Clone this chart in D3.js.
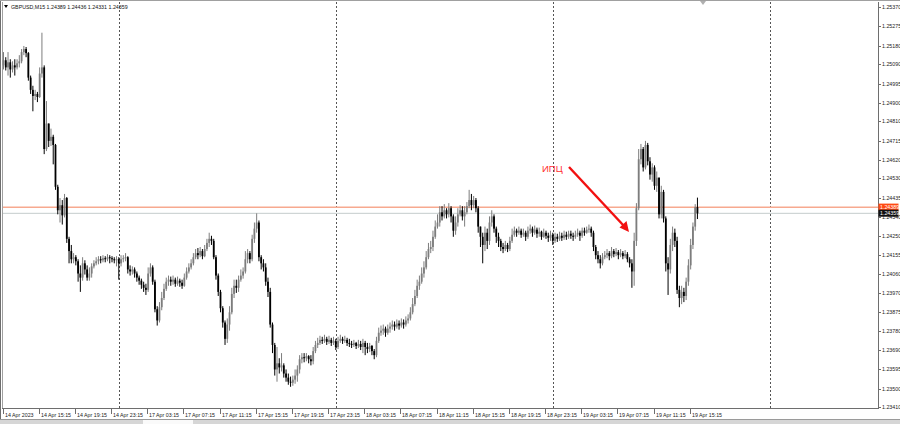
<!DOCTYPE html>
<html>
<head>
<meta charset="utf-8">
<script src="https://cdn.jsdelivr.net/npm/d3@7.9.0/dist/d3.min.js"></script>
<style>
  body { margin: 0; background: #fff; }
  svg { display: block; }
  text { font-family: "Liberation Sans", Arial, sans-serif; }
</style>
</head>
<body>
<svg id="chart" width="900" height="424"></svg>
<script>
// GBPUSD M15, 14 Apr 2023 11:15 .. 19 Apr 2023 16:00
const symbol = 'GBPUSD,M15';
const firstOpen = 1.25084;

const closes = [
  1.25109,1.25074,1.25099,1.25064,1.25084,1.25074,1.25094,1.25104,1.25149,1.25164,
  1.25144,1.25024,1.24964,1.24934,1.24944,1.24929,1.25044,1.25074,1.24674,1.24799,
  1.24714,1.24734,1.24694,1.24489,1.24374,1.24399,1.24349,1.24434,1.24234,1.24174,
  1.24134,1.24144,1.24124,1.24064,1.24044,1.24114,1.24084,1.24044,1.24064,1.24099,
  1.24114,1.24124,1.24134,1.24129,1.24139,1.24134,1.24144,1.24139,1.24134,1.24129,
  1.24134,
  // 17 Apr
  1.24114,1.24134,1.24139,1.24144,1.24084,1.24074,1.24084,1.24064,1.24044,1.24029,
  1.24009,1.23994,1.23984,1.24064,1.24094,1.24024,1.23889,1.23834,1.23899,1.23944,
  1.23989,1.24024,1.24034,1.24024,1.24034,1.24014,1.24029,1.24019,1.24004,1.24044,
  1.24074,1.24094,1.24114,1.24144,1.24164,1.24154,1.24174,1.24149,1.24184,1.24214,
  1.24234,1.24224,1.24144,1.24054,1.23974,1.23894,1.23824,1.23744,1.23814,1.23874,
  1.23964,1.24004,1.23994,1.24034,1.24054,1.24074,1.24134,1.24164,1.24134,1.24234,
  1.24284,1.24314,1.24144,1.24114,1.24094,1.24024,1.23974,1.23814,1.23714,1.23594,
  1.23624,1.23604,1.23614,1.23574,1.23554,1.23534,1.23529,1.23544,1.23564,1.23594,
  1.23644,1.23654,1.23649,1.23659,1.23644,1.23634,1.23684,1.23714,1.23724,1.23739,
  1.23734,1.23744,1.23729,1.23739,1.23724,1.23734,
  // 18 Apr
  1.23704,1.23734,1.23744,1.23734,1.23739,1.23724,1.23719,1.23714,1.23724,1.23709,
  1.23719,1.23704,1.23724,1.23704,1.23694,1.23709,1.23684,1.23664,1.23734,1.23774,
  1.23784,1.23794,1.23774,1.23794,1.23804,1.23814,1.23804,1.23819,1.23809,1.23824,
  1.23814,1.23834,1.23844,1.23874,1.23914,1.23954,1.24004,1.24024,1.24064,1.24094,
  1.24144,1.24184,1.24194,1.24244,1.24294,1.24314,1.24364,1.24344,1.24374,1.24354,
  1.24384,1.24344,1.24274,1.24314,1.24354,1.24374,1.24344,1.24364,1.24394,1.24424,
  1.24399,1.24424,1.24384,1.24294,1.24244,1.24204,1.24264,1.24224,1.24314,1.24344,
  1.24284,1.24244,1.24224,1.24194,1.24184,1.24204,1.24184,1.24224,1.24254,1.24274,
  1.24264,1.24274,1.24254,1.24264,1.24244,1.24274,1.24284,1.24264,1.24279,1.24259,
  1.24269,1.24244,1.24264,1.24249,1.24239,1.24254,
  // 19 Apr
  1.24224,1.24244,1.24234,1.24249,1.24239,1.24254,1.24244,1.24259,1.24249,1.24244,
  1.24254,1.24264,1.24249,1.24274,1.24264,1.24279,1.24284,1.24264,1.24194,1.24154,
  1.24134,1.24114,1.24144,1.24154,1.24164,1.24149,1.24174,1.24159,1.24169,1.24154,
  1.24164,1.24149,1.24159,1.24134,1.24114,1.24074,1.24224,1.24384,1.24624,1.24674,
  1.24584,1.24694,1.24614,1.24549,1.24584,1.24494,1.24534,1.24354,1.24464,1.24334,
  1.24114,1.24084,1.24204,1.24264,1.24224,1.23984,1.23944,1.23974,1.23954,1.24024,
  1.24104,1.24204,1.24294,1.24389,1.24359
];

const highs = [
  1.25149,1.25124,1.25149,1.25114,1.25104,1.25114,1.25114,1.25134,1.25164,1.25179,
  1.25174,1.25149,1.25034,1.24984,1.24964,1.24954,1.25074,1.25244,1.25084,1.24909,
  1.24774,1.24774,1.24744,1.24699,1.24499,1.24434,1.24424,1.24454,1.24439,1.24244,
  1.24204,1.24164,1.24154,1.24134,1.24104,1.24144,1.24129,1.24104,1.24094,1.24114,
  1.24129,1.24144,1.24149,1.24149,1.24154,1.24149,1.24159,1.24154,1.24149,1.24144,
  1.24149,
  1.24144,1.24154,1.24154,1.24164,1.24149,1.24104,1.24099,1.24094,1.24074,1.24054,
  1.24039,1.24024,1.24014,1.24094,1.24114,1.24104,1.24034,1.23904,1.23924,1.23974,
  1.24014,1.24044,1.24054,1.24049,1.24054,1.24044,1.24049,1.24039,1.24034,1.24064,
  1.24094,1.24114,1.24134,1.24164,1.24184,1.24189,1.24194,1.24184,1.24204,1.24234,
  1.24264,1.24249,1.24234,1.24154,1.24064,1.23984,1.23904,1.23834,1.23844,1.23904,
  1.23994,1.24034,1.24034,1.24054,1.24084,1.24094,1.24174,1.24184,1.24174,1.24254,
  1.24314,1.24359,1.24324,1.24154,1.24134,1.24114,1.24044,1.23994,1.23824,1.23724,
  1.23704,1.23649,1.23674,1.23624,1.23594,1.23574,1.23559,1.23564,1.23594,1.23614,
  1.23664,1.23674,1.23674,1.23674,1.23664,1.23664,1.23704,1.23734,1.23749,1.23759,
  1.23754,1.23764,1.23754,1.23759,1.23749,1.23754,
  1.23744,1.23754,1.23764,1.23754,1.23759,1.23749,1.23744,1.23734,1.23739,1.23729,
  1.23739,1.23734,1.23744,1.23734,1.23724,1.23724,1.23714,1.23694,1.23754,1.23799,
  1.23809,1.23814,1.23804,1.23814,1.23824,1.23834,1.23829,1.23839,1.23834,1.23844,
  1.23839,1.23854,1.23864,1.23899,1.23944,1.23984,1.24034,1.24054,1.24094,1.24124,
  1.24174,1.24214,1.24224,1.24274,1.24324,1.24354,1.24394,1.24394,1.24404,1.24384,
  1.24409,1.24394,1.24354,1.24344,1.24384,1.24399,1.24394,1.24394,1.24414,1.24474,
  1.24454,1.24444,1.24434,1.24394,1.24294,1.24264,1.24294,1.24284,1.24344,1.24374,
  1.24354,1.24294,1.24264,1.24234,1.24214,1.24224,1.24214,1.24244,1.24284,1.24294,
  1.24284,1.24294,1.24284,1.24284,1.24274,1.24294,1.24304,1.24294,1.24299,1.24289,
  1.24289,1.24274,1.24284,1.24274,1.24264,1.24274,
  1.24264,1.24264,1.24259,1.24269,1.24264,1.24274,1.24269,1.24274,1.24274,1.24264,
  1.24274,1.24284,1.24274,1.24289,1.24289,1.24294,1.24304,1.24294,1.24274,1.24204,
  1.24174,1.24154,1.24164,1.24174,1.24184,1.24174,1.24194,1.24184,1.24189,1.24179,
  1.24184,1.24174,1.24179,1.24169,1.24144,1.24134,1.24264,1.24409,1.24674,1.24699,
  1.24684,1.24714,1.24704,1.24634,1.24604,1.24594,1.24564,1.24534,1.24494,1.24474,
  1.24344,1.24144,1.24234,1.24294,1.24284,1.24244,1.24004,1.24004,1.23994,1.24044,
  1.24134,1.24234,1.24314,1.24404,1.24436
];

const lows = [
  1.25064,1.25059,1.25034,1.25024,1.25049,1.25034,1.25064,1.25074,1.25094,1.25134,
  1.25124,1.25009,1.24944,1.24859,1.24914,1.24904,1.24924,1.25024,1.24649,1.24664,
  1.24684,1.24689,1.24599,1.24474,1.24354,1.24314,1.24304,1.24339,1.24214,1.24114,
  1.24114,1.24114,1.24104,1.24024,1.23974,1.24029,1.24059,1.24029,1.24029,1.24044,
  1.24089,1.24104,1.24109,1.24114,1.24119,1.24119,1.24124,1.24114,1.24119,1.24114,
  1.24099,
  1.24034,1.24099,1.24119,1.24124,1.24064,1.24054,1.24059,1.24044,1.24024,1.24009,
  1.23989,1.23974,1.23959,1.23974,1.24049,1.24009,1.23874,1.23809,1.23824,1.23884,
  1.23934,1.23979,1.24004,1.24004,1.24009,1.23999,1.24004,1.23999,1.23989,1.23999,
  1.24034,1.24064,1.24084,1.24104,1.24134,1.24134,1.24144,1.24134,1.24144,1.24174,
  1.24194,1.24204,1.24134,1.24034,1.23954,1.23874,1.23799,1.23714,1.23724,1.23784,
  1.23864,1.23944,1.23969,1.23974,1.24024,1.24039,1.24064,1.24114,1.24114,1.24124,
  1.24214,1.24264,1.24124,1.24084,1.24074,1.24004,1.23949,1.23799,1.23674,1.23564,
  1.23534,1.23574,1.23584,1.23554,1.23534,1.23519,1.23509,1.23514,1.23524,1.23534,
  1.23574,1.23624,1.23629,1.23634,1.23624,1.23614,1.23619,1.23674,1.23699,1.23714,
  1.23719,1.23724,1.23714,1.23719,1.23709,1.23714,
  1.23689,1.23694,1.23724,1.23719,1.23724,1.23709,1.23704,1.23699,1.23704,1.23694,
  1.23699,1.23689,1.23674,1.23664,1.23674,1.23679,1.23664,1.23644,1.23654,1.23724,
  1.23759,1.23764,1.23754,1.23764,1.23774,1.23789,1.23784,1.23794,1.23789,1.23799,
  1.23794,1.23804,1.23819,1.23834,1.23864,1.23904,1.23944,1.23984,1.24014,1.24044,
  1.24084,1.24134,1.24164,1.24174,1.24234,1.24284,1.24294,1.24324,1.24334,1.24334,
  1.24339,1.24314,1.24244,1.24254,1.24294,1.24344,1.24324,1.24294,1.24354,1.24384,
  1.24374,1.24384,1.24364,1.24264,1.24194,1.24114,1.24174,1.24184,1.24204,1.24294,
  1.24264,1.24214,1.24194,1.24174,1.24164,1.24174,1.24169,1.24174,1.24214,1.24244,
  1.24244,1.24254,1.24239,1.24244,1.24224,1.24234,1.24259,1.24244,1.24254,1.24239,
  1.24244,1.24229,1.24239,1.24234,1.24219,1.24224,
  1.24204,1.24214,1.24219,1.24224,1.24224,1.24229,1.24229,1.24234,1.24234,1.24224,
  1.24234,1.24244,1.24224,1.24239,1.24249,1.24259,1.24264,1.24244,1.24174,1.24134,
  1.24114,1.24089,1.24104,1.24134,1.24139,1.24129,1.24139,1.24144,1.24149,1.24134,
  1.24144,1.24134,1.24139,1.24119,1.24094,1.23994,1.24004,1.24199,1.24374,1.24599,
  1.24564,1.24574,1.24594,1.24524,1.24514,1.24474,1.24464,1.24334,1.24334,1.24314,
  1.24074,1.23959,1.24064,1.24174,1.24194,1.23964,1.23899,1.23914,1.23924,1.23934,
  1.24004,1.24084,1.24184,1.24274,1.24331
];

// trading days shown: first bar time and number of M15 bars
const sessions = [
  { start: '2023-04-14T11:15', bars: 51 },
  { start: '2023-04-17T00:00', bars: 96 },
  { start: '2023-04-18T00:00', bars: 96 },
  { start: '2023-04-19T00:00', bars: 65 }
];
const separatorBars = [51, 147, 243, 339];
const labelEvery = 16;

const priceTicks = ['1.25370','1.25275','1.25180','1.25090','1.24995','1.24900','1.24810',
  '1.24715','1.24620','1.24530','1.24435','1.24340','1.24250','1.24155','1.24060','1.23970',
  '1.23875','1.23780','1.23690','1.23595','1.23500','1.23410'];

const askPrice = 1.24389;
const bidPrice = closes[closes.length - 1];
const note = 'ИПЦ';

// ---------- build bars ----------
const parse = d3.timeParse('%Y-%m-%dT%H:%M');
const times = [];
sessions.forEach(s => {
  const t0 = parse(s.start);
  for (let k = 0; k < s.bars; k++) times.push(d3.timeMinute.offset(t0, 15 * k));
});

const bars = closes.map((c, i) => ({
  i,
  t: times[i],
  o: i === 0 ? firstOpen : closes[i - 1],
  h: highs[i],
  l: lows[i],
  c
}));
const lastBar = bars[bars.length - 1];

// ---------- layout ----------
const W = 900, H = 424;
const plotL = 2, plotT = 2, plotR = 878, plotB = 408;

const x = d3.scaleLinear().domain([0, 96]).range([3.5, 3.5 + 217]);
const y = d3.scaleLinear().domain([1.23410, 1.25370]).range([407, 7]);

const svg = d3.select('#chart');

svg.append('rect').attr('width', W).attr('height', H).attr('fill', '#fff');

// bottom tab strip
svg.append('rect').attr('x', 0).attr('y', 420).attr('width', W).attr('height', 4).attr('fill', '#d6d6d6');
svg.append('rect').attr('x', 143).attr('y', 420).attr('width', 50).attr('height', 4).attr('fill', '#fafafa');
svg.append('line').attr('x1', 0).attr('x2', W).attr('y1', 419.5).attr('y2', 419.5)
  .attr('stroke', '#9a9a9a').attr('stroke-width', 1);

// frame
const frame = svg.append('g').attr('fill', 'none').attr('stroke', '#6e6e6e').attr('stroke-width', 1);
frame.append('line').attr('x1', 0.5).attr('x2', 0.5).attr('y1', 0).attr('y2', 419);
frame.append('line').attr('x1', plotL + 0.5).attr('x2', plotL + 0.5).attr('y1', plotT).attr('y2', plotB)
  .attr('stroke', '#a0a0a0');
frame.append('line').attr('x1', 0).attr('x2', W).attr('y1', 0.5).attr('y2', 0.5).attr('stroke', '#a0a0a0');
frame.append('line').attr('x1', plotL).attr('x2', plotR + 0.5).attr('y1', plotB + 0.5).attr('y2', plotB + 0.5);
frame.append('line').attr('x1', plotR + 0.5).attr('x2', plotR + 0.5).attr('y1', plotT).attr('y2', plotB + 1);

// period separators
svg.append('g')
  .selectAll('line')
  .data(separatorBars)
  .join('line')
  .attr('x1', d => Math.round(x(d)) + 0.5)
  .attr('x2', d => Math.round(x(d)) + 0.5)
  .attr('y1', plotT)
  .attr('y2', plotB)
  .attr('stroke', '#555')
  .attr('stroke-width', 1)
  .attr('stroke-dasharray', '2,2');

// chart shift marker
svg.append('path')
  .attr('d', 'M700,1 L706,1 L703,5 Z')
  .attr('fill', '#b0b0b0');

// price axis
const yAxis = svg.append('g').attr('font-size', 5.3).attr('fill', '#222');
priceTicks.forEach(p => {
  const yy = Math.round(y(+p)) + 0.5;
  yAxis.append('line')
    .attr('x1', plotR).attr('x2', plotR + 3)
    .attr('y1', yy).attr('y2', yy)
    .attr('stroke', '#6e6e6e');
  yAxis.append('text')
    .attr('x', plotR + 4)
    .attr('y', yy + 1.9)
    .text(p);
});

// time axis
const fmtFirst = d3.timeFormat('%d %b %Y');
const fmtTick = d3.timeFormat('%d %b %H:%M');
const xAxis = svg.append('g').attr('font-size', 5.3).attr('fill', '#222');
bars.filter(d => d.i % labelEvery === 0).forEach(d => {
  const xx = Math.round(x(d.i)) - 0.5;
  xAxis.append('line')
    .attr('x1', xx).attr('x2', xx)
    .attr('y1', plotB + 1).attr('y2', plotB + 6)
    .attr('stroke', '#6e6e6e');
  xAxis.append('text')
    .attr('x', xx + 1.5)
    .attr('y', 416.5)
    .text(d.i === 0 ? fmtFirst(d.t) : fmtTick(d.t));
});

// ask / bid lines
svg.append('line')
  .attr('x1', plotL + 1).attr('x2', plotR)
  .attr('y1', y(askPrice)).attr('y2', y(askPrice))
  .attr('stroke', '#f7a98f').attr('stroke-width', 1.4);
svg.append('line')
  .attr('x1', plotL + 1).attr('x2', plotR)
  .attr('y1', y(bidPrice)).attr('y2', y(bidPrice))
  .attr('stroke', '#c4cccc').attr('stroke-width', 1);

// candles
const bullColor = '#7d7d7d';
const bearColor = '#000';
const bodyW = 1.8;
const cg = svg.append('g');
cg.selectAll('line')
  .data(bars)
  .join('line')
  .attr('x1', d => x(d.i))
  .attr('x2', d => x(d.i))
  .attr('y1', d => y(Math.max(d.h, d.o, d.c)))
  .attr('y2', d => y(Math.min(d.l, d.o, d.c)))
  .attr('stroke', d => (d.c >= d.o ? bullColor : bearColor))
  .attr('stroke-width', 1);
cg.selectAll('rect')
  .data(bars)
  .join('rect')
  .attr('x', d => x(d.i) - bodyW / 2)
  .attr('width', bodyW)
  .attr('y', d => y(Math.max(d.o, d.c)))
  .attr('height', d => Math.max(1, Math.abs(y(d.o) - y(d.c))))
  .attr('fill', d => (d.c >= d.o ? bullColor : bearColor));

// price labels for ask / bid
function priceTag(p, bg) {
  const yy = y(p);
  svg.append('rect')
    .attr('x', plotR + 0.5).attr('y', yy - 3.6)
    .attr('width', 20).attr('height', 7)
    .attr('fill', bg);
  svg.append('text')
    .attr('x', plotR + 2).attr('y', yy + 1.9)
    .attr('font-size', 5.3).attr('fill', '#fff')
    .text(p.toFixed(5));
}
priceTag(askPrice, '#ff4a12');
priceTag(bidPrice, '#111');

// title
svg.append('path').attr('d', 'M4,5 L8,5 L6,8 Z').attr('fill', '#000');
svg.append('text')
  .attr('x', 11).attr('y', 9)
  .attr('font-size', 5.3).attr('fill', '#111')
  .text(`${symbol}  ${lastBar.o.toFixed(5)} ${lastBar.h.toFixed(5)} ${lastBar.l.toFixed(5)} ${lastBar.c.toFixed(5)}`);

// annotation
svg.append('text')
  .attr('x', 542).attr('y', 171.5)
  .attr('font-size', 9.5).attr('fill', '#ff3030')
  .text(note);
svg.append('line')
  .attr('x1', 569).attr('y1', 167)
  .attr('x2', 624).attr('y2', 226)
  .attr('stroke', '#f21010').attr('stroke-width', 2.4);
svg.append('path')
  .attr('d', 'M629,232 L619.5,227.5 L626.5,221 Z')
  .attr('fill', '#f21010');
</script>
</body>
</html>
